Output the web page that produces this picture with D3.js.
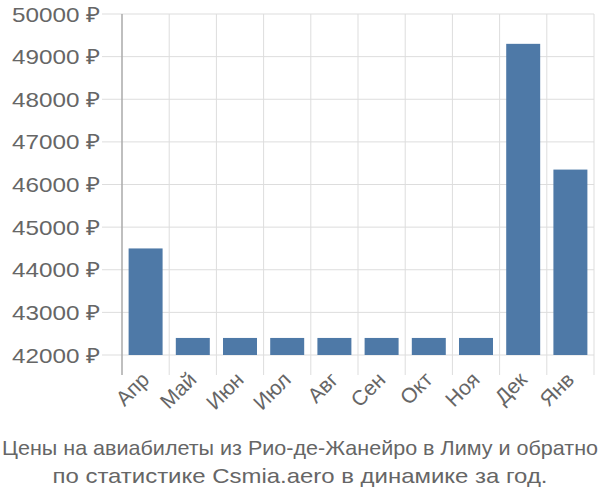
<!DOCTYPE html>
<html><head><meta charset="utf-8">
<script src="https://cdn.jsdelivr.net/npm/d3@7"></script>
<style>body{margin:0;background:#fff}svg{display:block}</style>
</head><body><svg id="c" width="600" height="500"></svg>
<script>
const categories = ["Апр","Май","Июн","Июл","Авг","Сен","Окт","Ноя","Дек","Янв"];
const prices = [44500, 42400, 42400, 42400, 42400, 42400, 42400, 42400, 49300, 46350];
const yTicks = [42000,43000,44000,45000,46000,47000,48000,49000,50000];
const titleLines = ["Цены на авиабилеты из Рио-де-Жанейро в Лиму и обратно","по статистике Csmia.aero в динамике за год."];

(function(){
const svg = d3.select("#c");
const font = "'Liberation Sans', Arial, sans-serif";
const pLeft = 122, pRight = 594, pTop = 14, pBottom = 355, gridBottom = 375;
const x = d3.scaleBand().domain(categories).range([pLeft, pRight]).paddingInner(0.28).paddingOuter(0.14);
const y = d3.scaleLinear().domain([42000, 50000]).range([pBottom, pTop]);

svg.append("g").selectAll("line").data(yTicks).join("line")
  .attr("x1", 102).attr("x2", pRight).attr("y1", d => y(d)).attr("y2", d => y(d))
  .attr("stroke", "#ddd").attr("stroke-width", 1);
const step = x.step();
const bounds = d3.range(categories.length + 1).map(i => pLeft + i * step);
svg.append("g").selectAll("line").data(bounds.slice(1)).join("line")
  .attr("x1", d => d).attr("x2", d => d).attr("y1", pTop).attr("y2", gridBottom)
  .attr("stroke", "#ddd").attr("stroke-width", 1);
svg.append("line").attr("x1", pLeft).attr("x2", pLeft).attr("y1", pTop).attr("y2", gridBottom)
  .attr("stroke", "#aaa").attr("stroke-width", 1.5);

svg.append("g").selectAll("rect").data(prices).join("rect")
  .attr("x", (d, i) => x(categories[i])).attr("width", x.bandwidth())
  .attr("y", d => y(d)).attr("height", d => pBottom - y(d))
  .attr("fill", "#4e79a7");

svg.append("g").selectAll("text").data(yTicks).join("text")
  .attr("x", 100).attr("y", d => y(d)).attr("dy", "0.36em")
  .attr("text-anchor", "end").attr("font-family", font).attr("font-size", 21)
  .attr("textLength", 88).attr("lengthAdjust", "spacingAndGlyphs")
  .attr("fill", "#666").text(d => d + " ₽");

svg.append("g").selectAll("text").data(categories).join("text")
  .attr("transform", d => `translate(${x(d) + x.bandwidth()/2 + 5},${381}) rotate(-45)`)
  .attr("text-anchor", "end").attr("font-family", font).attr("font-size", 21)
  .attr("fill", "#666").text(d => d);

const tLens = [596, 495];
svg.append("g").selectAll("text").data(titleLines).join("text")
  .attr("x", 300).attr("y", (d, i) => 455 + i * 28)
  .attr("text-anchor", "middle").attr("font-family", font).attr("font-size", 21)
  .attr("textLength", (d, i) => tLens[i]).attr("lengthAdjust", "spacingAndGlyphs")
  .attr("fill", "#666").text(d => d);
})();
</script></body></html>
